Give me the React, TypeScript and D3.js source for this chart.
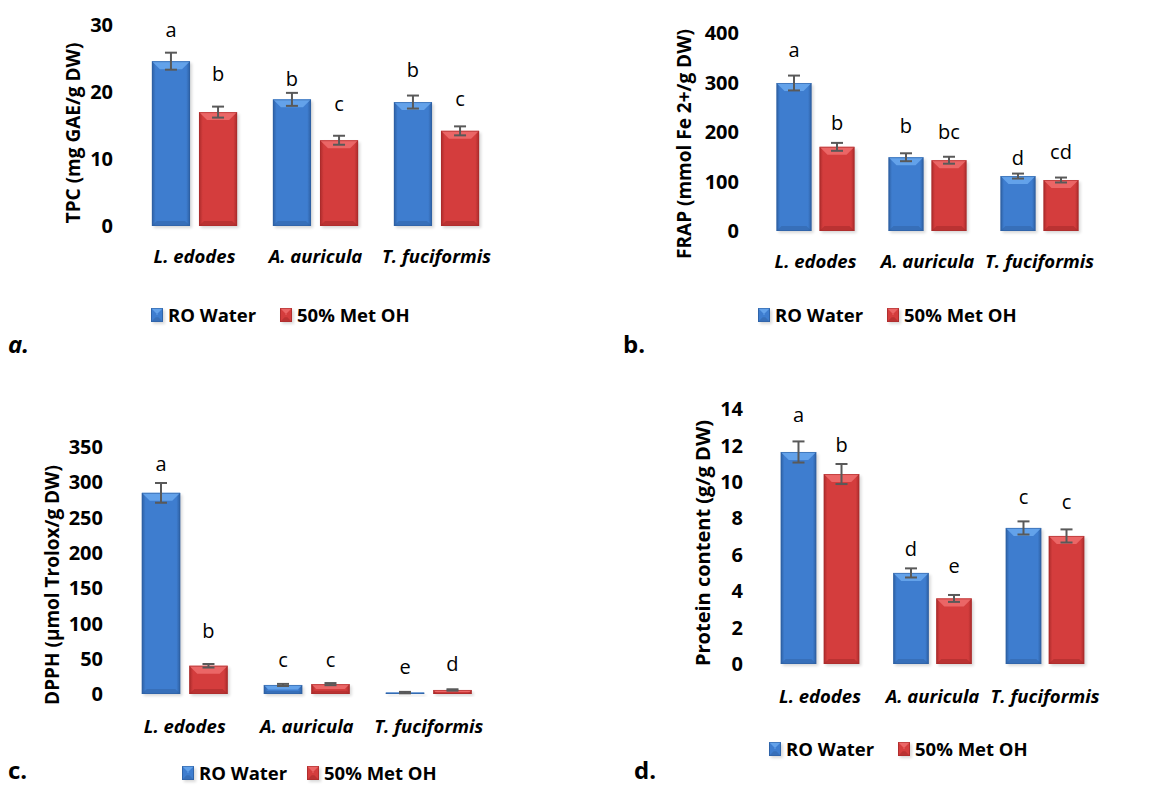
import React from "react";
import * as d3 from "d3";

// ---------- DATA ----------
const categories = ["L. edodes", "A. auricula", "T. fuciformis"];
const seriesNames = ["RO Water", "50% Met OH"];

const tpcTicks = [0, 10, 20, 30];
const tpcWater = [24.6, 18.9, 18.5];
const tpcMeth = [17.0, 12.8, 14.2];
const tpcWaterErr = [1.27, 0.97, 0.97];
const tpcMethErr = [0.82, 0.67, 0.67];
const tpcWaterLetters = ["a", "b", "b"];
const tpcMethLetters = ["b", "c", "c"];
const tpcWaterLetterAt = [28.25, 20.9, 22.2];
const tpcMethLetterAt = [21.6, 17.2, 17.9];

const frapTicks = [0, 100, 200, 300, 400];
const frapWater = [299, 149, 111];
const frapMeth = [170, 143, 103];
const frapWaterErr = [15, 8, 5];
const frapMethErr = [8, 7, 5];
const frapWaterLetters = ["a", "b", "d"];
const frapMethLetters = ["b", "bc", "cd"];
const frapWaterLetterAt = [351, 198, 133];
const frapMethLetterAt = [204, 186, 145];

const dpphTicks = [0, 50, 100, 150, 200, 250, 300, 350];
const dpphWater = [285, 12.8, 2];
const dpphMeth = [40, 14, 5.7];
const dpphWaterErr = [14, 1.5, 1];
const dpphMethErr = [2.5, 1.5, 1];
const dpphWaterLetters = ["a", "c", "e"];
const dpphMethLetters = ["b", "c", "d"];
const dpphWaterLetterAt = [316, 38, 28];
const dpphMethLetterAt = [79, 38, 33];

const protTicks = [0, 2, 4, 6, 8, 10, 12, 14];
const protWater = [11.64, 5.0, 7.47];
const protMeth = [10.43, 3.6, 7.03];
const protWaterErr = [0.58, 0.25, 0.36];
const protMethErr = [0.55, 0.19, 0.36];
const protWaterLetters = ["a", "d", "c"];
const protMethLetters = ["b", "e", "c"];
const protWaterLetterAt = [13.27, 5.95, 8.79];
const protMethLetterAt = [11.66, 4.98, 8.5];

// ---------- STYLE ----------
const FONT = "'Open Sans', 'Liberation Sans', sans-serif";
const PALETTE = {
  blue: { mid: "#3e7dcf", edge: "#2d5fa2", top: "#6aa8ee", bottom: "#2f5f9e" },
  red: { mid: "#d43d3d", edge: "#aa2b2b", top: "#ee6d6d", bottom: "#9c2626" },
};
const colorKeys = ["blue", "red"];

type PanelSpec = {
  title: string;
  titleSize: number;
  ticks: number[];
  series: number[][];
  errs: number[][];
  letters: string[][];
  letterAt: number[][];
  xRange: [number, number];
  padInner: number;
  padOuter: number;
  yRange: [number, number];
  tickX: number;
  titleX: number;
  titleY: number;
  catY: number;
  legendY: number;
  legendX: [number, number];
  panelLabel: string;
  panelLabelItalic: boolean;
  panelLabelPos: [number, number];
};

const panels: PanelSpec[] = [
  {
    title: "TPC (mg GAE/g DW)",
    titleSize: 19,
    ticks: tpcTicks,
    series: [tpcWater, tpcMeth],
    errs: [tpcWaterErr, tpcMethErr],
    letters: [tpcWaterLetters, tpcMethLetters],
    letterAt: [tpcWaterLetterAt, tpcMethLetterAt],
    xRange: [134, 497],
    padInner: 0.19,
    padOuter: 0.38,
    yRange: [226, 25],
    tickX: 113,
    titleX: 80,
    titleY: 133,
    catY: 263,
    legendY: 322,
    legendX: [151, 280],
    panelLabel: "a.",
    panelLabelItalic: true,
    panelLabelPos: [8, 353],
  },
  {
    title: "FRAP (mmol Fe 2+/g DW)",
    titleSize: 19,
    ticks: frapTicks,
    series: [frapWater, frapMeth],
    errs: [frapWaterErr, frapMethErr],
    letters: [frapWaterLetters, frapMethLetters],
    letterAt: [frapWaterLetterAt, frapMethLetterAt],
    xRange: [759.5, 1095.5],
    padInner: 0.186,
    padOuter: 0.395,
    yRange: [231, 33],
    tickX: 739,
    titleX: 691,
    titleY: 144,
    catY: 268,
    legendY: 322,
    legendX: [758, 887],
    panelLabel: "b.",
    panelLabelItalic: false,
    panelLabelPos: [623, 353],
  },
  {
    title: "DPPH (µmol Trolox/g DW)",
    titleSize: 19,
    ticks: dpphTicks,
    series: [dpphWater, dpphMeth],
    errs: [dpphWaterErr, dpphMethErr],
    letters: [dpphWaterLetters, dpphMethLetters],
    letterAt: [dpphWaterLetterAt, dpphMethLetterAt],
    xRange: [123.75, 489.75],
    padInner: 0.19,
    padOuter: 0.38,
    yRange: [694, 447],
    tickX: 103,
    titleX: 59,
    titleY: 585,
    catY: 733,
    legendY: 780,
    legendX: [182, 307],
    panelLabel: "c.",
    panelLabelItalic: false,
    panelLabelPos: [8, 779],
  },
  {
    title: "Protein content (g/g DW)",
    titleSize: 20,
    ticks: protTicks,
    series: [protWater, protMeth],
    errs: [protWaterErr, protMethErr],
    letters: [protWaterLetters, protMethLetters],
    letterAt: [protWaterLetterAt, protMethLetterAt],
    xRange: [763.75, 1101.25],
    padInner: 0.174,
    padOuter: 0.395,
    yRange: [664, 409],
    tickX: 743,
    titleX: 710,
    titleY: 543,
    catY: 703,
    legendY: 756,
    legendX: [769, 898],
    panelLabel: "d.",
    panelLabelItalic: false,
    panelLabelPos: [634, 779],
  },
];

function BevelBar({ x, y, w, h, ck }: { x: number; y: number; w: number; h: number; ck: string }) {
  const c = (PALETTE as any)[ck];
  const b = Math.min(8, h / 2);
  const b2 = Math.min(5, h / 3);
  return (
    <g>
      <rect x={x + 2} y={y + 2} width={w} height={h} fill="#000" opacity={0.15} filter="url(#shadowBlur)" />
      <rect x={x} y={y} width={w} height={h} fill={`url(#grad-${ck})`} />
      <polygon
        points={`${x},${y} ${x + w},${y} ${x + w - b},${y + b} ${x + b},${y + b}`}
        fill={c.top}
        opacity={0.85}
      />
      <polygon
        points={`${x},${y + h} ${x + w},${y + h} ${x + w - b2},${y + h - b2} ${x + b2},${y + h - b2}`}
        fill={c.bottom}
        opacity={0.45}
      />
      <rect x={x + 0.5} y={y + 0.5} width={w - 1} height={h - 1} fill="none" stroke={c.edge} strokeWidth={1} opacity={0.6} />
    </g>
  );
}

function Panel({ p }: { p: PanelSpec }) {
  const maxTick = p.ticks[p.ticks.length - 1];
  const y = d3.scaleLinear().domain([0, maxTick]).range(p.yRange);
  const xg = d3.scaleBand<string>().domain(categories).range(p.xRange).paddingInner(0).paddingOuter(0);
  const xs = d3
    .scaleBand<string>()
    .domain(seriesNames)
    .range([0, xg.bandwidth()])
    .paddingInner(p.padInner)
    .paddingOuter(p.padOuter);
  const bw = xs.bandwidth();
  const y0 = y(0);
  return (
    <g fontFamily={FONT}>
      {p.ticks.map((t) => (
        <text key={t} x={p.tickX} y={y(t)} dy="0.36em" textAnchor="end" fontSize={20} fontWeight={700} fill="#000">
          {t}
        </text>
      ))}
      <text
        transform={`translate(${p.titleX},${p.titleY}) rotate(-90)`}
        textAnchor="middle"
        fontSize={p.titleSize}
        fontWeight={700}
        fill="#000"
      >
        {p.title}
      </text>
      {seriesNames.map((s, si) =>
        categories.map((cat, ci) => {
          const v = p.series[si][ci];
          const bx = (xg(cat) as number) + (xs(s) as number);
          const by = y(v);
          const cx = bx + bw / 2;
          const e = p.errs[si][ci];
          return (
            <g key={s + cat}>
              <BevelBar x={bx} y={by} w={bw} h={y0 - by} ck={colorKeys[si]} />
              <g stroke="#595959" strokeWidth={2}>
                <line x1={cx} x2={cx} y1={y(v + e)} y2={y(v - e)} />
                <line x1={cx - 6} x2={cx + 6} y1={y(v + e)} y2={y(v + e)} />
                <line x1={cx - 6} x2={cx + 6} y1={y(v - e)} y2={y(v - e)} />
              </g>
              <text x={cx} y={y(p.letterAt[si][ci])} textAnchor="middle" fontSize={20} fill="#000">
                {p.letters[si][ci]}
              </text>
            </g>
          );
        })
      )}
      {categories.map((cat) => (
        <text
          key={cat}
          x={(xg(cat) as number) + xg.bandwidth() / 2}
          y={p.catY}
          textAnchor="middle"
          fontSize={18.5}
          fontWeight={700}
          fontStyle="italic"
          fill="#000"
        >
          {cat}
        </text>
      ))}
      {seriesNames.map((s, si) => (
        <g key={s}>
          <BevelBar x={p.legendX[si]} y={p.legendY - 14} w={12} h={14} ck={colorKeys[si]} />
          <text x={p.legendX[si] + 17} y={p.legendY} fontSize={18.5} fontWeight={700} fill="#000">
            {s}
          </text>
        </g>
      ))}
      <text
        x={p.panelLabelPos[0]}
        y={p.panelLabelPos[1]}
        fontSize={24}
        fontWeight={700}
        fontStyle={p.panelLabelItalic ? "italic" : "normal"}
        fill="#000"
      >
        {p.panelLabel}
      </text>
    </g>
  );
}

export default function App() {
  return (
    <svg width={1161} height={787} style={{ position: "absolute", left: 0, top: 0, background: "#fff" }}>
      <defs>
        {colorKeys.map((ck) => {
          const c = (PALETTE as any)[ck];
          return (
            <linearGradient key={ck} id={`grad-${ck}`} x1="0" x2="1" y1="0" y2="0">
              <stop offset="0%" stopColor={c.edge} />
              <stop offset="10%" stopColor={c.mid} />
              <stop offset="90%" stopColor={c.mid} />
              <stop offset="100%" stopColor={c.edge} />
            </linearGradient>
          );
        })}
        <filter id="shadowBlur" x="-20%" y="-20%" width="140%" height="140%">
          <feGaussianBlur stdDeviation="1.5" />
        </filter>
      </defs>
      <rect width={1161} height={787} fill="#fff" />
      {panels.map((p) => (
        <Panel key={p.title} p={p} />
      ))}
    </svg>
  );
}
